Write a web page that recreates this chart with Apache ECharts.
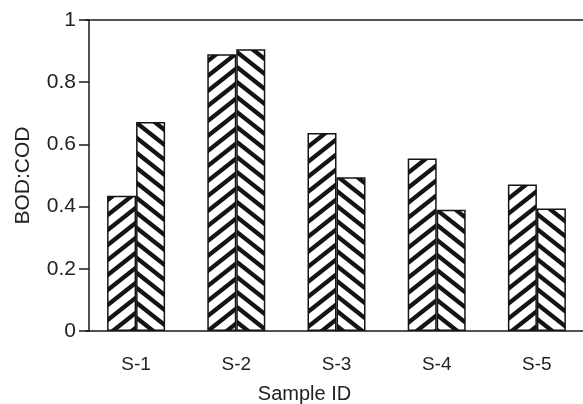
<!DOCTYPE html>
<html><head><meta charset="utf-8">
<script src="https://cdn.jsdelivr.net/npm/echarts@6/dist/echarts.min.js"></script>
<style>html,body{margin:0;padding:0;background:#fff}#c{width:583px;height:404px}</style>
</head><body><div id="c"></div>
<script>
var categories = ['S-1', 'S-2', 'S-3', 'S-4', 'S-5'];
var seriesA = [0.435, 0.89, 0.637, 0.555, 0.471];
var seriesB = [0.672, 0.906, 0.494, 0.39, 0.394];
var yTicks = [0, 0.2, 0.4, 0.6, 0.8, 1];

function stripe(dir) {
  var W = 19, H = 15, t = 5.5;
  var c = document.createElement('canvas');
  c.width = W; c.height = H;
  var g = c.getContext('2d');
  g.fillStyle = '#fff'; g.fillRect(0, 0, W, H);
  g.fillStyle = '#141414';
  for (var k = -1; k <= 1; k++) {
    g.beginPath();
    if (dir > 0) {
      g.moveTo(0, H + H * k - t / 2); g.lineTo(W, H * k - t / 2);
      g.lineTo(W, H * k + t / 2); g.lineTo(0, H + H * k + t / 2);
    } else {
      g.moveTo(0, H * k - t / 2); g.lineTo(W, H + H * k - t / 2);
      g.lineTo(W, H + H * k + t / 2); g.lineTo(0, H * k + t / 2);
    }
    g.closePath(); g.fill();
  }
  return { image: c, repeat: 'repeat' };
}

var chart = echarts.init(document.getElementById('c'), null, { renderer: 'canvas' });
var font = 'Liberation Sans, Arial, Helvetica, sans-serif';
chart.setOption({
  animation: false,
  grid: { left: 86, right: -4, top: 20, bottom: 73, outerBoundsMode: 'none', containLabel: false },
  xAxis: [{
    type: 'category', data: categories, position: 'bottom',
    axisLine: { lineStyle: { color: '#1a1a1a', width: 1.5 } },
    axisTick: { show: false },
    axisLabel: { color: '#222', fontFamily: font, fontSize: 19, margin: 24 },
    name: 'Sample ID', nameLocation: 'middle', nameGap: 53,
    nameTextStyle: { color: '#222', fontFamily: font, fontSize: 20, padding: [0, 64, 0, 0] }
  }, {
    type: 'category', data: categories, position: 'top',
    axisLine: { show: true, lineStyle: { color: '#1a1a1a', width: 1.5 } },
    axisTick: { show: false }, axisLabel: { show: false }
  }],
  yAxis: {
    type: 'value', min: 0, max: 1, interval: 0.2, offset: -3,
    axisLine: { show: true, lineStyle: { color: '#1a1a1a', width: 1.5 } },
    axisTick: { show: true, length: 10, lineStyle: { color: '#1a1a1a', width: 1.5 } },
    splitLine: { show: false },
    axisLabel: { color: '#222', fontFamily: font, fontSize: 21, margin: 13, padding: [6, 0, 0, 0],
      formatter: function (v) { return String(Math.round(v * 10) / 10); } },
    name: 'BOD:COD', nameLocation: 'middle', nameGap: 55, nameRotate: 90,
    nameTextStyle: { color: '#222', fontFamily: font, fontSize: 21 }
  },
  series: [{
    type: 'bar', data: seriesA, barWidth: 29, barGap: '0%',
    itemStyle: { color: stripe(1), borderColor: '#141414', borderWidth: 1.5 }
  }, {
    type: 'bar', data: seriesB, barWidth: 29, barGap: '0%',
    itemStyle: { color: stripe(-1), borderColor: '#141414', borderWidth: 1.5 }
  }]
});
</script></body></html>
